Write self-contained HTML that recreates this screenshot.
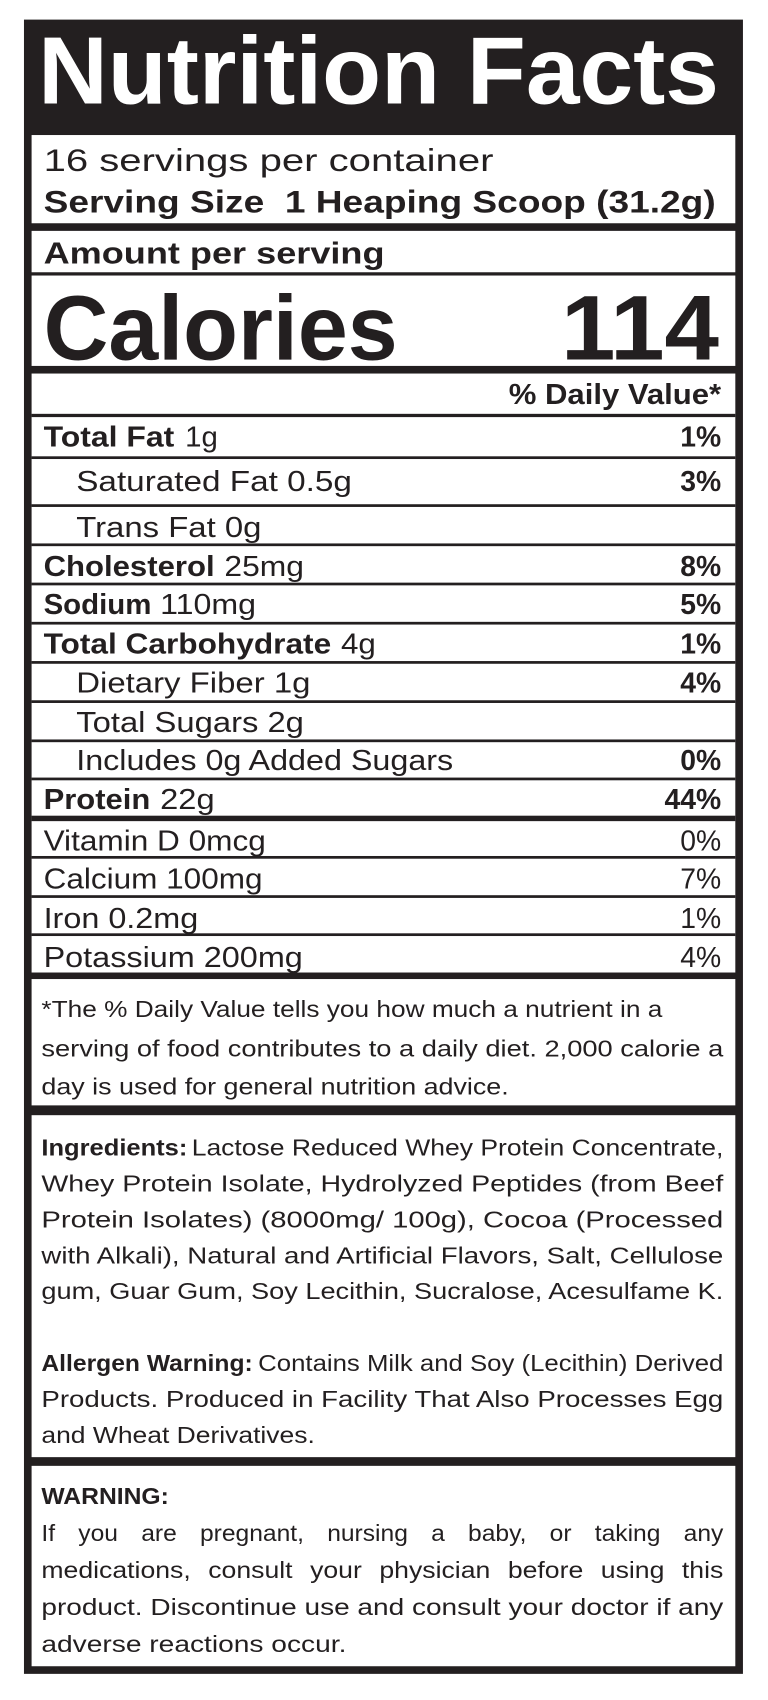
<!DOCTYPE html>
<html><head><meta charset="utf-8"><style>
html,body{margin:0;padding:0;background:#fff;}
svg{display:block;}
text{font-family:"Liberation Sans",sans-serif;fill:#231f20;}
.b{font-weight:bold;}
</style></head><body>
<svg width="768" height="1700" viewBox="0 0 705 1561" preserveAspectRatio="none" xmlns="http://www.w3.org/2000/svg">
<rect x="0" y="0" width="705" height="1561" fill="#fff"/>
<rect x="22" y="18" width="660" height="1519" fill="#231f20"/>
<rect x="29" y="124" width="646" height="81" fill="#fff"/>
<rect x="29" y="212" width="646" height="38" fill="#fff"/>
<rect x="29" y="253" width="646" height="83" fill="#fff"/>
<rect x="29" y="343" width="646" height="550" fill="#fff"/>
<rect x="29" y="899" width="646" height="116" fill="#fff"/>
<rect x="29" y="1024" width="646" height="314" fill="#fff"/>
<rect x="29" y="1346" width="646" height="184" fill="#fff"/>
<g fill="#231f20">
<rect x="29" y="380" width="646" height="3"/>
<rect x="29" y="419" width="646" height="2.5"/>
<rect x="29" y="463" width="646" height="2.5"/>
<rect x="29" y="499" width="646" height="2.5"/>
<rect x="29" y="535" width="646" height="2.5"/>
<rect x="29" y="571" width="646" height="2.5"/>
<rect x="29" y="607" width="646" height="2.5"/>
<rect x="29" y="643" width="646" height="2.5"/>
<rect x="29" y="679" width="646" height="2.5"/>
<rect x="29" y="714" width="646" height="2.5"/>
<rect x="29" y="749" width="646" height="5"/>
<rect x="29" y="786" width="646" height="2.5"/>
<rect x="29" y="822" width="646" height="2.5"/>
<rect x="29" y="857" width="646" height="2.5"/>
</g>
<text x="35" y="95" font-size="88" class="b" fill="#fff" style="fill:#fff" textLength="625" lengthAdjust="spacingAndGlyphs">Nutrition Facts</text>
<text x="40" y="157" font-size="29" textLength="413" lengthAdjust="spacingAndGlyphs">16 servings per container</text>
<text x="40" y="195" font-size="29" class="b" textLength="617" lengthAdjust="spacingAndGlyphs">Serving Size&#160; 1 Heaping Scoop (31.2g)</text>
<text x="40" y="242" font-size="28" class="b" textLength="313" lengthAdjust="spacingAndGlyphs">Amount per serving</text>
<text x="40" y="330" font-size="84" class="b" textLength="325" lengthAdjust="spacingAndGlyphs">Calories</text>
<text x="515" y="330" font-size="84" class="b" textLength="145" lengthAdjust="spacingAndGlyphs">114</text>
<text x="467" y="371" font-size="26" class="b" textLength="195" lengthAdjust="spacingAndGlyphs">% Daily Value*</text>
<g font-size="26">
<text x="40" y="410" class="b" textLength="120" lengthAdjust="spacingAndGlyphs">Total Fat</text>
<text x="170" y="410" textLength="30" lengthAdjust="spacingAndGlyphs">1g</text>
<text x="70" y="451" textLength="253" lengthAdjust="spacingAndGlyphs">Saturated Fat 0.5g</text>
<text x="70" y="493" textLength="170" lengthAdjust="spacingAndGlyphs">Trans Fat 0g</text>
<text x="40" y="529" class="b" textLength="157" lengthAdjust="spacingAndGlyphs">Cholesterol</text>
<text x="206" y="529" textLength="73" lengthAdjust="spacingAndGlyphs">25mg</text>
<text x="40" y="564" class="b" textLength="99" lengthAdjust="spacingAndGlyphs">Sodium</text>
<text x="147" y="564" textLength="88" lengthAdjust="spacingAndGlyphs">110mg</text>
<text x="40" y="600" class="b" textLength="264" lengthAdjust="spacingAndGlyphs">Total Carbohydrate</text>
<text x="313" y="600" textLength="32" lengthAdjust="spacingAndGlyphs">4g</text>
<text x="70" y="636" textLength="215" lengthAdjust="spacingAndGlyphs">Dietary Fiber 1g</text>
<text x="70" y="672" textLength="209" lengthAdjust="spacingAndGlyphs">Total Sugars 2g</text>
<text x="70" y="707" textLength="346" lengthAdjust="spacingAndGlyphs">Includes 0g Added Sugars</text>
<text x="40" y="743" class="b" textLength="98" lengthAdjust="spacingAndGlyphs">Protein</text>
<text x="147" y="743" textLength="50" lengthAdjust="spacingAndGlyphs">22g</text>
<text x="40" y="781" textLength="204" lengthAdjust="spacingAndGlyphs">Vitamin D 0mcg</text>
<text x="40" y="816" textLength="201" lengthAdjust="spacingAndGlyphs">Calcium 100mg</text>
<text x="40" y="852" textLength="142" lengthAdjust="spacingAndGlyphs">Iron 0.2mg</text>
<text x="40" y="888" textLength="238" lengthAdjust="spacingAndGlyphs">Potassium 200mg</text>
<g text-anchor="end">
<text x="662" y="410" class="b">1%</text>
<text x="662" y="451" class="b">3%</text>
<text x="662" y="529" class="b">8%</text>
<text x="662" y="564" class="b">5%</text>
<text x="662" y="600" class="b">1%</text>
<text x="662" y="636" class="b">4%</text>
<text x="662" y="707" class="b">0%</text>
<text x="662" y="743" class="b">44%</text>
<text x="662" y="781">0%</text>
<text x="662" y="816">7%</text>
<text x="662" y="852">1%</text>
<text x="662" y="888">4%</text>
</g>
</g>
<g font-size="21">
<text x="38" y="934" textLength="570" lengthAdjust="spacingAndGlyphs">*The % Daily Value tells you how much a nutrient in a</text>
<text x="38" y="970" textLength="626" lengthAdjust="spacingAndGlyphs">serving of food contributes to a daily diet. 2,000 calorie a</text>
<text x="38" y="1005" textLength="429" lengthAdjust="spacingAndGlyphs">day is used for general nutrition advice.</text>
<text x="38" y="1061" class="b" textLength="134" lengthAdjust="spacingAndGlyphs">Ingredients:</text>
<text x="176" y="1061" textLength="488" lengthAdjust="spacingAndGlyphs">Lactose Reduced Whey Protein Concentrate,</text>
<text x="38" y="1094" textLength="626" lengthAdjust="spacingAndGlyphs">Whey Protein Isolate, Hydrolyzed Peptides (from Beef</text>
<text x="38" y="1127" textLength="626" lengthAdjust="spacingAndGlyphs">Protein Isolates) (8000mg/ 100g), Cocoa (Processed</text>
<text x="38" y="1160" textLength="626" lengthAdjust="spacingAndGlyphs">with Alkali), Natural and Artificial Flavors, Salt, Cellulose</text>
<text x="38" y="1193" textLength="626" lengthAdjust="spacingAndGlyphs">gum, Guar Gum, Soy Lecithin, Sucralose, Acesulfame K.</text>
<text x="38" y="1259" class="b" textLength="194" lengthAdjust="spacingAndGlyphs">Allergen Warning:</text>
<text x="237" y="1259" textLength="427" lengthAdjust="spacingAndGlyphs">Contains Milk and Soy (Lecithin) Derived</text>
<text x="38" y="1292" textLength="626" lengthAdjust="spacingAndGlyphs">Products. Produced in Facility That Also Processes Egg</text>
<text x="38" y="1325" textLength="251" lengthAdjust="spacingAndGlyphs">and Wheat Derivatives.</text>
<text x="38" y="1381" class="b" textLength="117" lengthAdjust="spacingAndGlyphs">WARNING:</text>
<text x="38" y="1415" word-spacing="14" textLength="626" lengthAdjust="spacingAndGlyphs">If you are pregnant, nursing a baby, or taking any</text>
<text x="38" y="1449" word-spacing="8" textLength="626" lengthAdjust="spacingAndGlyphs">medications, consult your physician before using this</text>
<text x="38" y="1483" textLength="626" lengthAdjust="spacingAndGlyphs">product. Discontinue use and consult your doctor if any</text>
<text x="38" y="1517" textLength="280" lengthAdjust="spacingAndGlyphs">adverse reactions occur.</text>
</g>
</svg>
</body></html>
